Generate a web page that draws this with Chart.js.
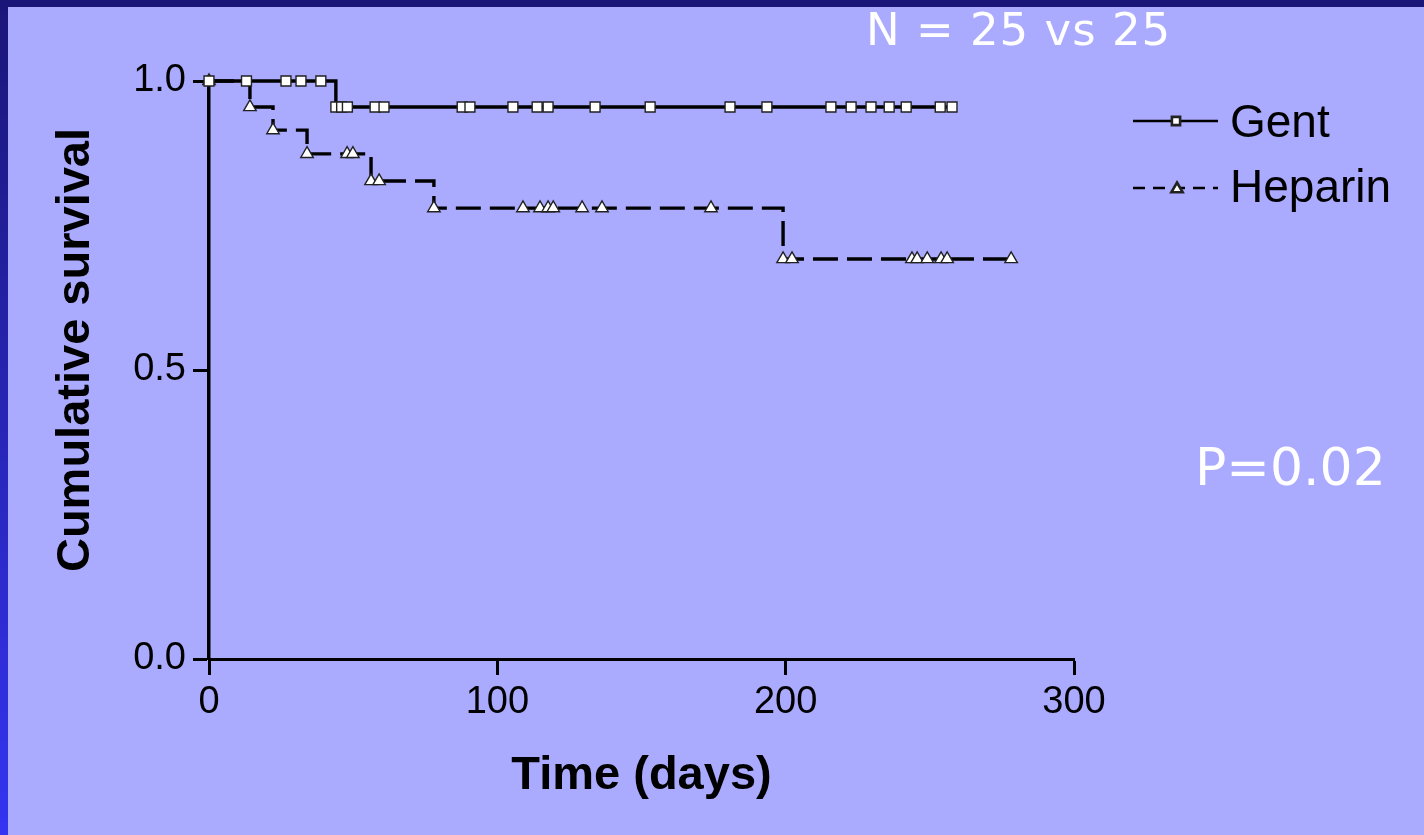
<!DOCTYPE html>
<html>
<head>
<meta charset="utf-8">
<script src="https://cdn.jsdelivr.net/npm/chart.js@4.4.1/dist/chart.umd.min.js"></script>
<style>
  html, body { margin: 0; padding: 0; }
  body { width: 1424px; height: 835px; background: #aaaaff; position: relative; overflow: hidden; }
  #topBand { position: absolute; left: 0; top: 0; width: 1424px; height: 7px; background: #1a1678; }
  #leftBand { position: absolute; left: 0; top: 0; width: 8px; height: 835px; background: linear-gradient(#1a1678, #3434f2); }
  #chartBox { position: absolute; left: 0; top: 0; width: 1424px; height: 835px; }
</style>
</head>
<body>
<div id="topBand"></div>
<div id="leftBand"></div>
<div id="chartBox"><canvas id="survival" width="1424" height="835"></canvas></div>
<script>
// Kaplan-Meier curves, values (days, cumulative survival)
var gentDays = [0, 13, 26.7, 31.9, 38.8, 44, 46, 48, 57.6, 60.7, 87.8, 90.5, 105.4, 113.8, 117.6,
    133.9, 153, 180.7, 193.5, 215.7, 222.7, 229.6, 235.9, 241.8, 253.6, 257.7];
var gentSurvival = [1, 1, 1, 1, 1, 0.955, 0.955, 0.955, 0.955, 0.955, 0.955, 0.955, 0.955, 0.955, 0.955,
    0.955, 0.955, 0.955, 0.955, 0.955, 0.955, 0.955, 0.955, 0.955, 0.955, 0.955];

var heparinDays = [0, 14.2, 22.2, 34, 47.9, 49.9, 56.2, 59, 78, 108.9, 114.8, 117.6, 119.4, 129.4,
    136.3, 174.1, 199.1, 202.2, 243.8, 245.6, 249.1, 253.9, 256, 278.2];
var heparinSurvival = [1, 0.955, 0.915, 0.874, 0.874, 0.874, 0.827, 0.827, 0.78, 0.78, 0.78, 0.78, 0.78, 0.78,
    0.78, 0.78, 0.692, 0.692, 0.692, 0.692, 0.692, 0.692, 0.692, 0.692];

var seriesNames = ["Gent", "Heparin"];
var xTicks = [0, 100, 200, 300];
var yTicks = [0, 0.5, 1.0];

var axisFont = '"Liberation Sans", Arial, sans-serif';
var noteFont = '"DejaVu Sans", Verdana, sans-serif';

function toPoints(days, surv) {
    var pts = [];
    for (var i = 0; i < days.length; i++) {
        pts.push({ x: days[i], y: surv[i] });
    }
    return pts;
}

// y title, legend and the white notes drawn on top of the chart
var extras = {
    id: "extras",
    afterDraw: function (chart) {
        var ctx = chart.ctx;

        ctx.save();
        ctx.translate(76, 350);
        ctx.rotate(-Math.PI / 2);
        ctx.font = "bold 47px " + axisFont;
        ctx.fillStyle = "#000";
        ctx.textAlign = "center";
        ctx.textBaseline = "middle";
        ctx.fillText("Cumulative survival", 0, 0);
        ctx.restore();

        // legend
        ctx.save();
        ctx.strokeStyle = "#000";
        ctx.lineWidth = 2.6;
        ctx.beginPath();
        ctx.moveTo(1133, 121);
        ctx.lineTo(1218, 121);
        ctx.stroke();
        ctx.setLineDash([12, 8]);
        ctx.beginPath();
        ctx.moveTo(1133, 188);
        ctx.lineTo(1218, 188);
        ctx.stroke();
        ctx.setLineDash([]);
        ctx.fillStyle = "#fff";
        ctx.strokeStyle = "#222";
        Chart.helpers.drawPoint(ctx, { pointStyle: "rect", radius: 5.8, rotation: 0, borderWidth: 1.2 }, 1176, 121);
        Chart.helpers.drawPoint(ctx, { pointStyle: "triangle", radius: 6.5, rotation: 0, borderWidth: 1.2 }, 1177, 189);
        ctx.fillStyle = "#000";
        ctx.font = "46px " + axisFont;
        ctx.textAlign = "left";
        ctx.textBaseline = "alphabetic";
        ctx.fillText(seriesNames[0], 1230, 137);
        ctx.fillText(seriesNames[1], 1230, 202);
        ctx.restore();

        ctx.save();
        ctx.fillStyle = "#fff";
        ctx.textAlign = "left";
        ctx.textBaseline = "alphabetic";
        ctx.font = "45px " + noteFont;
        ctx.letterSpacing = "1px";
        ctx.fillText("N = 25 vs 25", 866, 45);
        ctx.font = "52px " + noteFont;
        ctx.letterSpacing = "0px";
        ctx.fillText("P=0.02", 1195, 485);
        ctx.restore();
    }
};

var ctx = document.getElementById("survival").getContext("2d");
var survivalChart = new Chart(ctx, {
    type: "line",
    data: {
        datasets: [{
            label: seriesNames[0],
            data: toPoints(gentDays, gentSurvival),
            stepped: "before",
            borderColor: "#000",
            borderWidth: 3.4,
            fill: false,
            clip: false,
            pointStyle: "rect",
            pointRadius: 7,
            pointBackgroundColor: "#fff",
            pointBorderColor: "#222",
            pointBorderWidth: 1.4
        }, {
            label: seriesNames[1],
            data: toPoints(heparinDays, heparinSurvival),
            stepped: "before",
            borderColor: "#000",
            borderWidth: 3.4,
            borderDash: [25, 9],
            fill: false,
            clip: false,
            pointStyle: "triangle",
            pointRadius: 7.2,
            pointBackgroundColor: "#fff",
            pointBorderColor: "#222",
            pointBorderWidth: 1.4
        }]
    },
    options: {
        responsive: false,
        animation: false,
        layout: { padding: { left: 0, top: 81, right: 350, bottom: 0 } },
        plugins: {
            legend: { display: false },
            tooltip: { enabled: false }
        },
        scales: {
            x: {
                type: "linear",
                min: 0,
                max: 300,
                afterFit: function (scale) { scale.height = 176; },
                afterBuildTicks: function (scale) {
                    scale.ticks = xTicks.map(function (v) { return { value: v }; });
                },
                border: { color: "#000", width: 3 },
                grid: { drawOnChartArea: false, tickLength: 16, tickColor: "#000", tickWidth: 3 },
                ticks: {
                    color: "#000",
                    padding: 5,
                    maxRotation: 0,
                    font: { family: axisFont, size: 38 }
                },
                title: {
                    display: true,
                    text: "Time (days)",
                    color: "#000",
                    font: { family: axisFont, size: 47, weight: "bold" },
                    padding: { top: 0, bottom: 31 }
                }
            },
            y: {
                min: 0,
                max: 1,
                afterFit: function (scale) { scale.width = 209; },
                afterBuildTicks: function (scale) {
                    scale.ticks = yTicks.map(function (v) { return { value: v }; });
                },
                border: { color: "#000", width: 3.5 },
                grid: { drawOnChartArea: false, tickLength: 16, tickColor: "#000", tickWidth: 3 },
                ticks: {
                    color: "#000",
                    padding: 7,
                    font: { family: axisFont, size: 38 },
                    callback: function (v) { return Number(v).toFixed(1); }
                }
            }
        }
    },
    plugins: [extras]
});
</script>
</body>
</html>
